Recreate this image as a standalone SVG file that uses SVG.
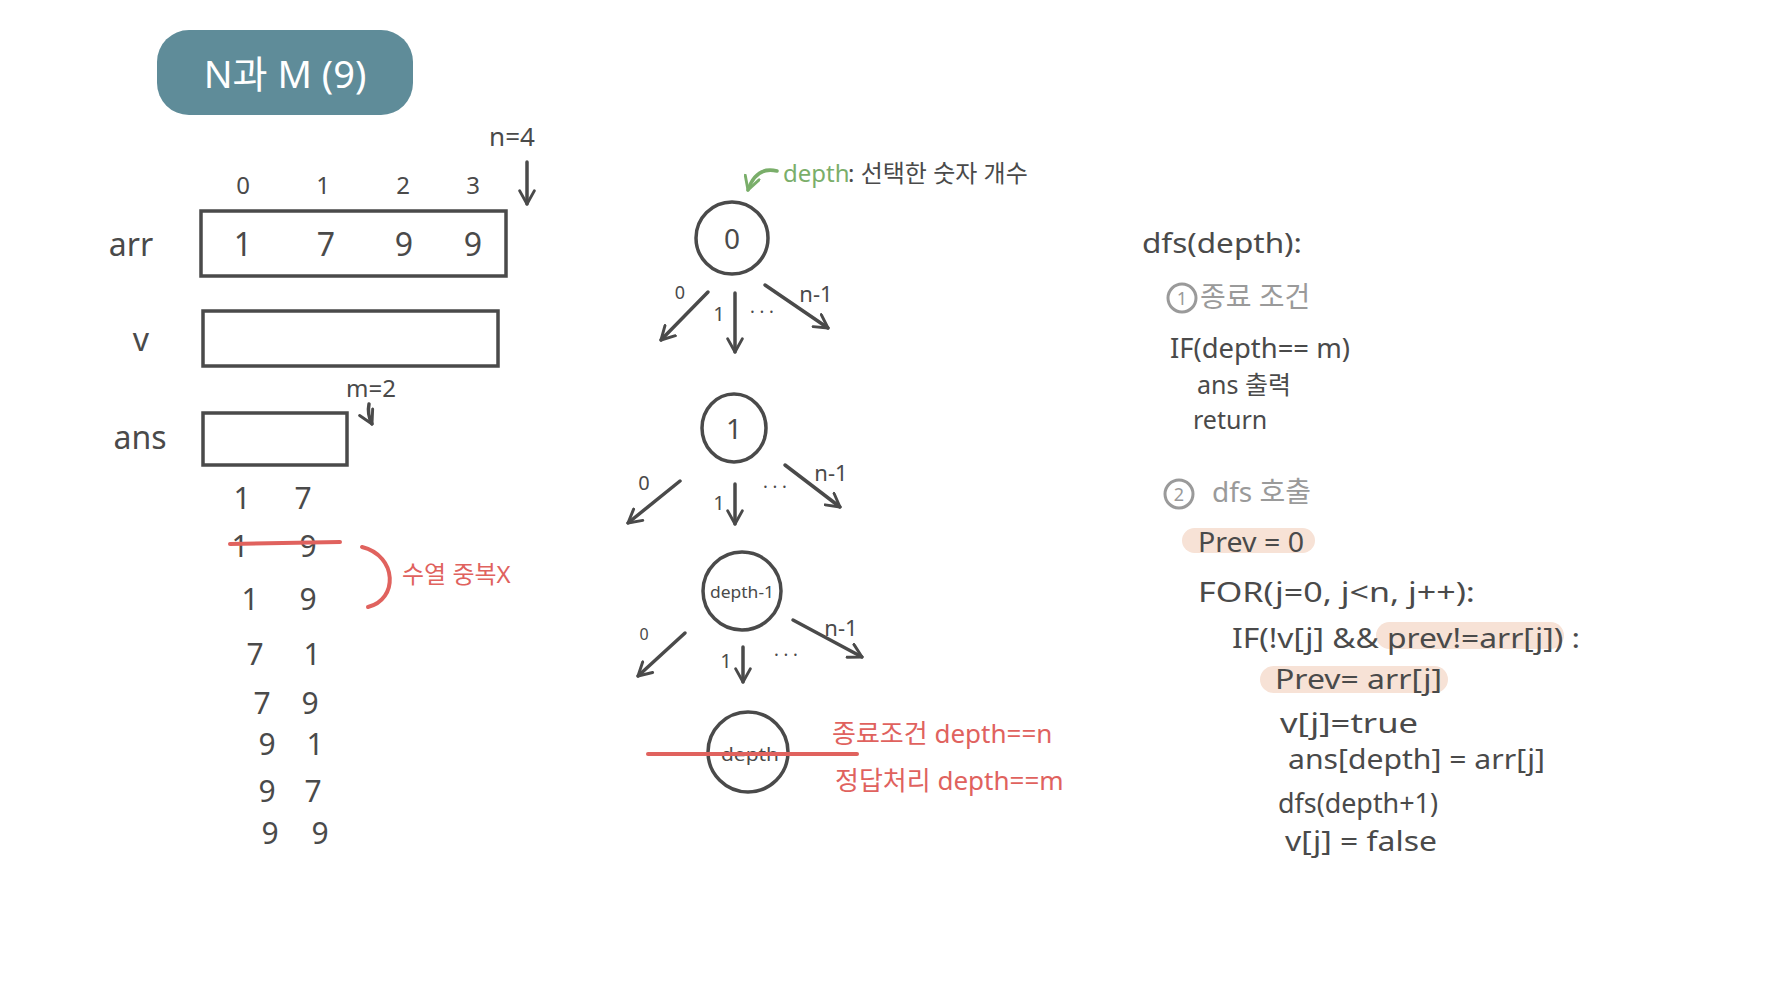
<svg xmlns="http://www.w3.org/2000/svg" width="1775" height="1000" viewBox="0 0 1775 1000">
<defs>
<style>
text{font-family:"Noto Sans","Noto Sans CJK KR",sans-serif;fill:#4a4a4a;dominant-baseline:central;}
.mid{text-anchor:middle;}
.box{fill:none;stroke:#4a4a4a;stroke-width:3.5;}
.circ{fill:none;stroke:#4a4a4a;stroke-width:3.5;}
.ln{fill:none;stroke:#4a4a4a;stroke-width:3.5;stroke-linecap:round;stroke-linejoin:round;}
.red{fill:#e0625e;}
.redln{fill:none;stroke:#e0625e;stroke-width:4;stroke-linecap:round;}
.gray{fill:#9a9a9a;}
.hl{fill:#f7e2d6;}
.code{font-size:28px;}
</style>
<marker id="ah" viewBox="0 0 12 12" refX="10" refY="6" markerWidth="5" markerHeight="5" orient="auto" markerUnits="strokeWidth">
<path d="M1,1 L10,6 L1,11" fill="none" stroke="#4a4a4a" stroke-width="2" stroke-linecap="round" stroke-linejoin="round"/>
</marker>
<marker id="ahg" viewBox="0 0 12 12" refX="10" refY="6" markerWidth="5" markerHeight="5" orient="auto" markerUnits="strokeWidth">
<path d="M1,1 L10,6 L1,11" fill="none" stroke="#7aae6a" stroke-width="2" stroke-linecap="round" stroke-linejoin="round"/>
</marker>
</defs>
<rect width="1775" height="1000" fill="#ffffff"/>

<g id="title">
<rect x="157" y="30" width="256" height="85" rx="32" fill="#5f8c99"/>
<text x="285" y="73" class="mid" style="fill:#ffffff;font-size:38px;">N과 M (9)</text>
</g>

<g id="arr-array">
<text x="131" y="243" class="mid" style="font-size:32px;">arr</text>
<text x="512" y="136" class="mid" style="font-size:26px;">n=4</text>
<text x="243" y="184" class="mid" style="font-size:24px;">0</text>
<text x="323" y="184" class="mid" style="font-size:24px;">1</text>
<text x="403" y="184" class="mid" style="font-size:24px;">2</text>
<text x="473" y="184" class="mid" style="font-size:24px;">3</text>
<rect class="box" x="201" y="211" width="305" height="65"/>
<text x="243" y="243" class="mid" style="font-size:32px;">1</text>
<text x="326" y="243" class="mid" style="font-size:32px;">7</text>
<text x="404" y="243" class="mid" style="font-size:32px;">9</text>
<text x="473" y="243" class="mid" style="font-size:32px;">9</text>
</g>

<g id="v-array">
<text x="141" y="338" class="mid" style="font-size:32px;">v</text>
<rect class="box" x="203" y="311" width="295" height="55"/>
</g>

<g id="ans-array">
<text x="140" y="436" class="mid" style="font-size:32px;">ans</text>
<text x="371" y="387" class="mid" style="font-size:24px;">m=2</text>
<rect class="box" x="203" y="413" width="144" height="52"/>
</g>

<g id="results">
<text x="242" y="497" class="mid" style="font-size:30px;">1</text>
<text x="303" y="497" class="mid" style="font-size:30px;">7</text>
<text x="240" y="545" class="mid" style="font-size:30px;">1</text>
<text x="308" y="545" class="mid" style="font-size:30px;">9</text>
<line class="redln" x1="230" y1="544" x2="340" y2="542"/>
<path class="redln" d="M362,547 C398,556 398,600 368,607"/>
<text x="402" y="573" class="red" style="font-size:24px;">수열 중복X</text>
<text x="250" y="598" class="mid" style="font-size:30px;">1</text>
<text x="308" y="598" class="mid" style="font-size:30px;">9</text>
<text x="255" y="653" class="mid" style="font-size:30px;">7</text>
<text x="312" y="653" class="mid" style="font-size:30px;">1</text>
<text x="262" y="702" class="mid" style="font-size:30px;">7</text>
<text x="310" y="702" class="mid" style="font-size:30px;">9</text>
<text x="267" y="743" class="mid" style="font-size:30px;">9</text>
<text x="315" y="743" class="mid" style="font-size:30px;">1</text>
<text x="267" y="790" class="mid" style="font-size:30px;">9</text>
<text x="313" y="790" class="mid" style="font-size:30px;">7</text>
<text x="270" y="832" class="mid" style="font-size:30px;">9</text>
<text x="320" y="832" class="mid" style="font-size:30px;">9</text>
</g>

<g id="depth-note">
<text x="783" y="172" style="font-size:24px;fill:#7aae6a;">depth</text>
<text x="848" y="172" style="font-size:24px;">: 선택한 숫자 개수</text>
</g>

<g id="node-0">
<circle class="circ" cx="732" cy="238" r="36"/>
<text x="732" y="238" class="mid" style="font-size:28px;">0</text>
<text x="680" y="292" class="mid" style="font-size:18px;">0</text>
<text x="719" y="313" class="mid" style="font-size:20px;">1</text>
<text x="762" y="311" class="mid" style="font-size:18px;">· · ·</text>
<text x="816" y="293" class="mid" style="font-size:22px;">n-1</text>
</g>

<g id="node-1">
<ellipse class="circ" cx="734" cy="428" rx="32" ry="34"/>
<text x="734" y="428" class="mid" style="font-size:28px;">1</text>
<text x="644" y="482" class="mid" style="font-size:20px;">0</text>
<text x="719" y="502" class="mid" style="font-size:20px;">1</text>
<text x="775" y="486" class="mid" style="font-size:18px;">· · ·</text>
<text x="831" y="472" class="mid" style="font-size:22px;">n-1</text>
</g>

<g id="node-depth-1">
<circle class="circ" cx="742" cy="591" r="39"/>
<text x="742" y="591" class="mid" style="font-size:17px;" textLength="64" lengthAdjust="spacingAndGlyphs">depth-1</text>
<text x="644" y="634" class="mid" style="font-size:16px;">0</text>
<text x="726" y="660" class="mid" style="font-size:20px;">1</text>
<text x="786" y="654" class="mid" style="font-size:18px;">· · ·</text>
<text x="841" y="627" class="mid" style="font-size:22px;">n-1</text>
</g>

<g id="node-depth">
<circle class="circ" cx="748" cy="752" r="40"/>
<text x="750" y="754" class="mid" style="font-size:18px;" textLength="58" lengthAdjust="spacingAndGlyphs">depth</text>
<line class="redln" x1="648" y1="754" x2="857" y2="754"/>
<text x="832" y="733" class="red" style="font-size:26px;">종료조건 depth==n</text>
<text x="835" y="780" class="red" style="font-size:26px;">정답처리 depth==m</text>
</g>

<g id="connectors">
<line class="ln" x1="527" y1="162" x2="527" y2="204" marker-end="url(#ah)"/>
<path class="ln" d="M369,404 Q367,414 372,424" marker-end="url(#ah)"/>
<path d="M777,171 Q756,166 748,190" fill="none" stroke="#7aae6a" stroke-width="3.5" stroke-linecap="round" marker-end="url(#ahg)"/>
<line class="ln" x1="708" y1="292" x2="661" y2="340" marker-end="url(#ah)"/>
<line class="ln" x1="735" y1="293" x2="735" y2="352" marker-end="url(#ah)"/>
<line class="ln" x1="765" y1="285" x2="828" y2="328" marker-end="url(#ah)"/>
<line class="ln" x1="680" y1="481" x2="628" y2="523" marker-end="url(#ah)"/>
<line class="ln" x1="735" y1="484" x2="735" y2="524" marker-end="url(#ah)"/>
<line class="ln" x1="785" y1="465" x2="840" y2="507" marker-end="url(#ah)"/>
<line class="ln" x1="685" y1="633" x2="638" y2="676" marker-end="url(#ah)"/>
<line class="ln" x1="743" y1="647" x2="743" y2="682" marker-end="url(#ah)"/>
<line class="ln" x1="793" y1="620" x2="862" y2="657" marker-end="url(#ah)"/>
</g>

<g id="code">
<text x="1142" y="242" class="code" textLength="160" lengthAdjust="spacingAndGlyphs">dfs(depth):</text>
<g id="step1">
<circle cx="1182" cy="298" r="14" fill="none" stroke="#9a9a9a" stroke-width="3"/>
<text x="1182" y="298" class="mid gray" style="font-size:18px;">1</text>
<text x="1200" y="296" class="gray" style="font-size:28px;">종료 조건</text>
</g>
<text x="1170" y="347" class="code" textLength="180" lengthAdjust="spacingAndGlyphs">IF(depth== m)</text>
<text x="1197" y="384" style="font-size:25px;">ans 출력</text>
<text x="1193" y="419" style="font-size:25px;">return</text>
<g id="step2">
<circle cx="1179" cy="494" r="14" fill="none" stroke="#9a9a9a" stroke-width="3"/>
<text x="1179" y="494" class="mid gray" style="font-size:18px;">2</text>
<text x="1212" y="491" class="gray" style="font-size:28px;">dfs 호출</text>
</g>
<rect class="hl" x="1182" y="528" width="133" height="25" rx="12.5"/>
<text x="1198" y="541" class="code" textLength="106" lengthAdjust="spacingAndGlyphs">Prev = 0</text>
<text x="1198" y="591" class="code" textLength="277" lengthAdjust="spacingAndGlyphs">FOR(j=0, j&lt;n, j++):</text>
<rect class="hl" x="1376" y="622" width="188" height="27" rx="13.5"/>
<text x="1232" y="637" class="code" textLength="348" lengthAdjust="spacingAndGlyphs">IF(!v[j] &amp;&amp; prev!=arr[j]) :</text>
<rect class="hl" x="1260" y="666" width="188" height="27" rx="13.5"/>
<text x="1275" y="678" class="code" textLength="167" lengthAdjust="spacingAndGlyphs">Prev= arr[j]</text>
<text x="1280" y="722" class="code" textLength="138" lengthAdjust="spacingAndGlyphs">v[j]=true</text>
<text x="1288" y="758" class="code" textLength="257" lengthAdjust="spacingAndGlyphs">ans[depth] = arr[j]</text>
<text x="1278" y="802" class="code" textLength="160" lengthAdjust="spacingAndGlyphs">dfs(depth+1)</text>
<text x="1285" y="840" class="code" textLength="152" lengthAdjust="spacingAndGlyphs">v[j] = false</text>
</g>
</svg>
